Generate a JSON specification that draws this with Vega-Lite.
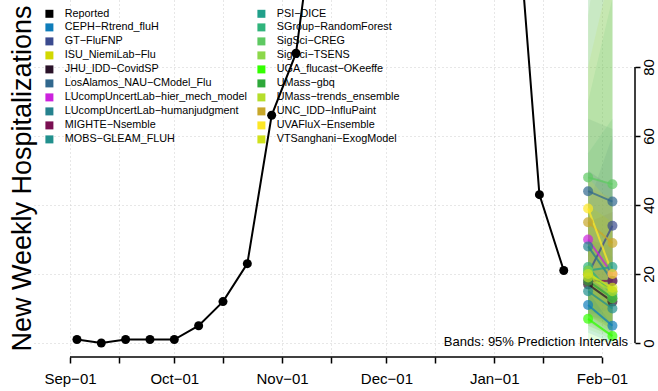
{
  "$schema": "https://vega.github.io/schema/vega-lite/v6.json",
  "width": 602,
  "height": 357,
  "autosize": {"type": "none"},
  "padding": {"left": 33, "top": 0, "right": 23, "bottom": 34},
  "background": "white",
  "config": {"view": {"stroke": null}, "font": "Liberation Sans"},
  "title": {"text": "New Weekly Hospitalizations", "orient": "left", "anchor": "middle", "frame": "group", "fontSize": 27, "fontWeight": "normal", "font": "Liberation Sans", "color": "black", "baseline": "alphabetic", "offset": -25},
  "datasets": {
    "reported": [
      {"date": "2022-09-03", "value": 1},
      {"date": "2022-09-10", "value": 0},
      {"date": "2022-09-17", "value": 1},
      {"date": "2022-09-24", "value": 1},
      {"date": "2022-10-01", "value": 1},
      {"date": "2022-10-08", "value": 5},
      {"date": "2022-10-15", "value": 12},
      {"date": "2022-10-22", "value": 23},
      {"date": "2022-10-29", "value": 66},
      {"date": "2022-11-05", "value": 84},
      {"date": "2022-11-12", "value": 137},
      {"date": "2022-11-19", "value": 190},
      {"date": "2022-11-26", "value": 240},
      {"date": "2022-12-03", "value": 260},
      {"date": "2022-12-10", "value": 235},
      {"date": "2022-12-17", "value": 210},
      {"date": "2022-12-24", "value": 190},
      {"date": "2022-12-31", "value": 165},
      {"date": "2023-01-07", "value": 133},
      {"date": "2023-01-14", "value": 43},
      {"date": "2023-01-21", "value": 21}
    ],
    "forecast": [
      {"model": "CEPH−Rtrend_fluH", "date": "2023-01-28", "value": 11, "lower": 3, "upper": 25},
      {"model": "CEPH−Rtrend_fluH", "date": "2023-02-04", "value": 5, "lower": 0, "upper": 20},
      {"model": "GT−FluFNP", "date": "2023-01-28", "value": 20, "lower": 8, "upper": 40},
      {"model": "GT−FluFNP", "date": "2023-02-04", "value": 34, "lower": 10, "upper": 60},
      {"model": "ISU_NiemiLab−Flu", "date": "2023-01-28", "value": 20, "lower": 8, "upper": 40},
      {"model": "ISU_NiemiLab−Flu", "date": "2023-02-04", "value": 15, "lower": 3, "upper": 35},
      {"model": "JHU_IDD−CovidSP", "date": "2023-01-28", "value": 17, "lower": 8, "upper": 30},
      {"model": "JHU_IDD−CovidSP", "date": "2023-02-04", "value": 12, "lower": 4, "upper": 28},
      {"model": "LosAlamos_NAU−CModel_Flu", "date": "2023-01-28", "value": 44, "lower": 25, "upper": 65},
      {"model": "LosAlamos_NAU−CModel_Flu", "date": "2023-02-04", "value": 41, "lower": 20, "upper": 62},
      {"model": "LUcompUncertLab−hier_mech_model", "date": "2023-01-28", "value": 30, "lower": 12, "upper": 50},
      {"model": "LUcompUncertLab−hier_mech_model", "date": "2023-02-04", "value": 20, "lower": 5, "upper": 45},
      {"model": "LUcompUncertLab−humanjudgment", "date": "2023-01-28", "value": 28, "lower": 10, "upper": 50},
      {"model": "LUcompUncertLab−humanjudgment", "date": "2023-02-04", "value": 18, "lower": 5, "upper": 45},
      {"model": "MIGHTE−Nsemble", "date": "2023-01-28", "value": 18, "lower": 8, "upper": 35},
      {"model": "MIGHTE−Nsemble", "date": "2023-02-04", "value": 18, "lower": 6, "upper": 38},
      {"model": "MOBS−GLEAM_FLUH", "date": "2023-01-28", "value": 15, "lower": 5, "upper": 30},
      {"model": "MOBS−GLEAM_FLUH", "date": "2023-02-04", "value": 10, "lower": 2, "upper": 25},
      {"model": "PSI−DICE", "date": "2023-01-28", "value": 21, "lower": 8, "upper": 55},
      {"model": "PSI−DICE", "date": "2023-02-04", "value": 22, "lower": 5, "upper": 65},
      {"model": "SGroup−RandomForest", "date": "2023-01-28", "value": 22, "lower": 10, "upper": 70},
      {"model": "SGroup−RandomForest", "date": "2023-02-04", "value": 14, "lower": 4, "upper": 100},
      {"model": "SigSci−CREG", "date": "2023-01-28", "value": 48, "lower": 25, "upper": 150},
      {"model": "SigSci−CREG", "date": "2023-02-04", "value": 46, "lower": 20, "upper": 150},
      {"model": "SigSci−TSENS", "date": "2023-01-28", "value": 21, "lower": 4, "upper": 95},
      {"model": "SigSci−TSENS", "date": "2023-02-04", "value": 13, "lower": 1, "upper": 140},
      {"model": "UGA_flucast−OKeeffe", "date": "2023-01-28", "value": 7, "lower": 1, "upper": 20},
      {"model": "UGA_flucast−OKeeffe", "date": "2023-02-04", "value": 2, "lower": 0, "upper": 12},
      {"model": "UMass−gbq", "date": "2023-01-28", "value": 18, "lower": 6, "upper": 110},
      {"model": "UMass−gbq", "date": "2023-02-04", "value": 13, "lower": 2, "upper": 130},
      {"model": "UMass−trends_ensemble", "date": "2023-01-28", "value": 19, "lower": 8, "upper": 80},
      {"model": "UMass−trends_ensemble", "date": "2023-02-04", "value": 15, "lower": 4, "upper": 110},
      {"model": "UNC_IDD−InfluPaint", "date": "2023-01-28", "value": 35, "lower": 15, "upper": 45},
      {"model": "UNC_IDD−InfluPaint", "date": "2023-02-04", "value": 29, "lower": 8, "upper": 42},
      {"model": "UVAFluX−Ensemble", "date": "2023-01-28", "value": 39, "lower": 15, "upper": 48},
      {"model": "UVAFluX−Ensemble", "date": "2023-02-04", "value": 20, "lower": 5, "upper": 40},
      {"model": "VTSanghani−ExogModel", "date": "2023-01-28", "value": 20, "lower": 5, "upper": 40},
      {"model": "VTSanghani−ExogModel", "date": "2023-02-04", "value": 16, "lower": 2, "upper": 35}
    ]
  },
  "layer": [
    {
      "data": {"name": "forecast"},
      "mark": {"type": "area", "opacity": 0.12, "clip": true},
      "encoding": {
        "x": {
          "field": "date", "type": "temporal",
          "scale": {"type": "utc", "domain": [{"year": 2022, "month": 8, "date": 21, "hours": 8, "minutes": 40, "utc": true}, {"year": 2023, "month": 2, "date": 10, "hours": 11, "minutes": 45, "utc": true}]},
          "axis": {
            "title": null, "domain": false,
            "values": [
              {"year": 2022, "month": 9, "date": 1, "utc": true},
              {"year": 2022, "month": 9, "date": 15, "utc": true},
              {"year": 2022, "month": 10, "date": 1, "utc": true},
              {"year": 2022, "month": 10, "date": 15, "utc": true},
              {"year": 2022, "month": 11, "date": 1, "utc": true},
              {"year": 2022, "month": 11, "date": 15, "utc": true},
              {"year": 2022, "month": 12, "date": 1, "utc": true},
              {"year": 2022, "month": 12, "date": 15, "utc": true},
              {"year": 2023, "month": 1, "date": 1, "utc": true},
              {"year": 2023, "month": 1, "date": 15, "utc": true},
              {"year": 2023, "month": 2, "date": 1, "utc": true}
            ],
            "labelExpr": "utcdate(datum.value) == 1 ? utcFormat(datum.value, '%b−%d') : ''",
            "labelFont": "Liberation Sans", "labelFontSize": 15, "labelColor": "black",
            "labelPadding": 8, "labelFlush": false, "labelOverlap": false,
            "ticks": true, "tickSize": 6, "tickColor": "black", "tickWidth": 1.5,
            "grid": true, "gridColor": "#cfcfcf", "gridDash": [1, 3], "gridWidth": 1
          }
        },
        "y": {
          "field": "lower", "type": "quantitative",
          "scale": {"domain": [-4.06, 99.42], "nice": false, "zero": false},
          "axis": {
            "orient": "right", "title": null, "domain": false,
            "values": [0, 20, 40, 60, 80],
            "labelAngle": -90, "labelAlign": "center", "labelBaseline": "top",
            "labelFont": "Liberation Sans", "labelFontSize": 15, "labelColor": "black",
            "labelPadding": 1,
            "ticks": true, "tickSize": 5, "tickColor": "black", "tickWidth": 1.5,
            "grid": true, "gridColor": "#cfcfcf", "gridDash": [1, 3], "gridWidth": 1
          }
        },
        "y2": {"field": "upper"},
        "color": {
          "field": "model", "type": "nominal",
          "scale": {
            "domain": ["Reported", "CEPH−Rtrend_fluH", "GT−FluFNP", "ISU_NiemiLab−Flu", "JHU_IDD−CovidSP", "LosAlamos_NAU−CModel_Flu", "LUcompUncertLab−hier_mech_model", "LUcompUncertLab−humanjudgment", "MIGHTE−Nsemble", "MOBS−GLEAM_FLUH", "PSI−DICE", "SGroup−RandomForest", "SigSci−CREG", "SigSci−TSENS", "UGA_flucast−OKeeffe", "UMass−gbq", "UMass−trends_ensemble", "UNC_IDD−InfluPaint", "UVAFluX−Ensemble", "VTSanghani−ExogModel"],
            "range": ["#000000", "#0F7DBA", "#3B4B8F", "#D2D800", "#2A1228", "#31688E", "#CC22DD", "#26828E", "#7A0F52", "#21908D", "#21A08A", "#30B47C", "#5EC962", "#8CD84A", "#33FF00", "#2EA83A", "#B5DE2B", "#C8A72A", "#FDE725", "#D0E11C"]
          },
          "legend": {
            "title": null, "orient": "none", "legendX": 11, "legendY": 8,
            "columns": 2, "columnPadding": 9, "rowPadding": 2, "padding": 0,
            "symbolType": "square", "symbolSize": 64, "labelOffset": 10,
            "symbolOpacity": 1, "symbolStrokeWidth": 0,
            "labelFont": "Liberation Sans", "labelFontSize": 10.8, "labelColor": "black",
            "labelLimit": 400,
            "encode": {"symbols": {"update": {"fill": {"scale": "color", "field": "value"}, "stroke": {"value": "transparent"}, "opacity": {"value": 1}, "fillOpacity": {"value": 1}, "shape": {"value": "square"}}}}
          }
        }
      }
    },
    {
      "data": {"name": "reported"},
      "mark": {"type": "line", "color": "black", "strokeWidth": 2, "clip": true},
      "encoding": {
        "x": {"field": "date", "type": "temporal"},
        "y": {"field": "value", "type": "quantitative"}
      }
    },
    {
      "data": {"name": "reported"},
      "mark": {"type": "circle", "color": "black", "size": 81, "opacity": 1, "clip": true},
      "encoding": {
        "x": {"field": "date", "type": "temporal"},
        "y": {"field": "value", "type": "quantitative"}
      }
    },
    {
      "data": {"name": "forecast"},
      "mark": {"type": "line", "strokeWidth": 2, "opacity": 0.75, "clip": true},
      "encoding": {
        "x": {"field": "date", "type": "temporal"},
        "y": {"field": "value", "type": "quantitative"},
        "color": {"field": "model", "type": "nominal"}
      }
    },
    {
      "data": {"name": "forecast"},
      "mark": {"type": "circle", "size": 100, "opacity": 0.7, "clip": true},
      "encoding": {
        "x": {"field": "date", "type": "temporal"},
        "y": {"field": "value", "type": "quantitative"},
        "color": {"field": "model", "type": "nominal"}
      }
    },
    {
      "data": {"values": [{}]},
      "mark": {"type": "rule", "color": "black", "strokeWidth": 1.5},
      "encoding": {
        "x": {"datum": {"year": 2022, "month": 9, "date": 1, "utc": true}, "type": "temporal"},
        "x2": {"datum": {"year": 2023, "month": 2, "date": 1, "utc": true}},
        "y": {"datum": -4.06, "type": "quantitative"}
      }
    },
    {
      "data": {"values": [{}]},
      "mark": {"type": "rule", "color": "black", "strokeWidth": 1.5},
      "encoding": {
        "x": {"datum": {"year": 2023, "month": 2, "date": 10, "hours": 11, "minutes": 45, "utc": true}, "type": "temporal"},
        "y": {"datum": 0, "type": "quantitative"},
        "y2": {"datum": 80}
      }
    },
    {
      "data": {"values": [{"label": "Bands: 95% Prediction Intervals"}]},
      "mark": {"type": "text", "align": "right", "baseline": "alphabetic", "fontSize": 13, "font": "Liberation Sans", "color": "black"},
      "encoding": {
        "x": {"datum": {"year": 2023, "month": 2, "date": 8, "hours": 12, "utc": true}, "type": "temporal"},
        "y": {"datum": -0.9, "type": "quantitative"},
        "text": {"field": "label"}
      }
    }
  ]
}
